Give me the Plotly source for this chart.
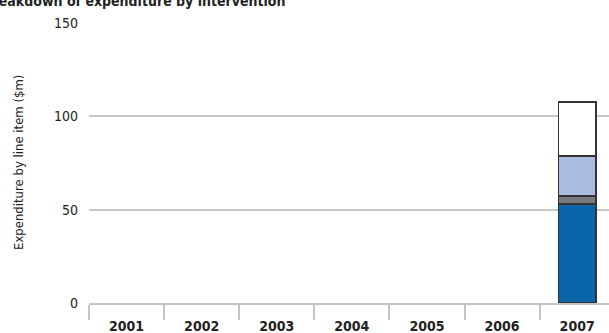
import plotly.graph_objects as go

years = ["2001", "2002", "2003", "2004", "2005", "2006", "2007"]
item_1 = [None, None, None, None, None, None, 53.0]
item_2 = [None, None, None, None, None, None, 4.3]
item_3 = [None, None, None, None, None, None, 21.5]
item_4 = [None, None, None, None, None, None, 29.0]
y_ticks = [0, 50, 100, 150]

series = [
    ("Line item 1", item_1, "#0a64a8"),
    ("Line item 2", item_2, "#7a7a7c"),
    ("Line item 3", item_3, "#a9bce2"),
    ("Line item 4", item_4, "#ffffff"),
]

FAM = "Liberation Sans Narrow, Arial Narrow, DejaVu Sans Condensed, Roboto Condensed, Roboto, sans-serif"

fig = go.Figure()
for name, vals, col in series:
    fig.add_trace(go.Bar(
        x=years, y=vals, name=name, width=0.5,
        marker=dict(color=col, line=dict(color="#333333", width=1.5)),
        showlegend=False,
    ))

W, H = 609, 333
L, T, B = 89, 23, 30
PW = W - L
PH = H - T - B

fig.update_layout(
    width=W, height=H,
    margin=dict(l=L, r=0, t=T, b=B, autoexpand=False),
    barmode="stack",
    plot_bgcolor="white", paper_bgcolor="white",
    font=dict(family=FAM, color="#222222"),
    xaxis=dict(
        type="category", range=[-0.5, -0.5 + PW / 75.1], automargin=False,
        tickson="boundaries", ticks="outside", ticklen=15, tickwidth=1.5,
        tickcolor="#c4c4c4", showgrid=False, ticklabelstandoff=9,
        showline=True, linecolor="#c4c4c4", linewidth=1.5,
        tickfont=dict(size=14, family=FAM, weight="bold", color="#222222"),
        fixedrange=True,
    ),
    yaxis=dict(
        range=[0, 150], tickvals=y_ticks, showgrid=True, automargin=False,
        gridcolor="#c8c8c8", gridwidth=1.5, zeroline=False, showline=False,
        ticks="", ticklabelstandoff=10,
        tickfont=dict(size=14, family=FAM, color="#222222"),
        fixedrange=True,
    ),
    annotations=[
        dict(text="Breakdown of expenditure by intervention", xref="paper", yref="paper",
             x=(287 - L) / PW, y=(H - B - 11) / PH, xanchor="right", yanchor="bottom",
             showarrow=False, font=dict(size=14, family=FAM, weight="bold", color="#222222")),
        dict(text="Expenditure by line item ($m)", xref="paper", yref="paper",
             x=(18 - L) / PW, y=0.5, xanchor="center", yanchor="middle", textangle=-90,
             showarrow=False, font=dict(size=13, family=FAM, color="#222222")),
    ],
)

fig.write_html("out.html", config={"responsive": False, "displayModeBar": False},
               post_script="document.body.style.margin='0';document.body.style.padding='0';")
